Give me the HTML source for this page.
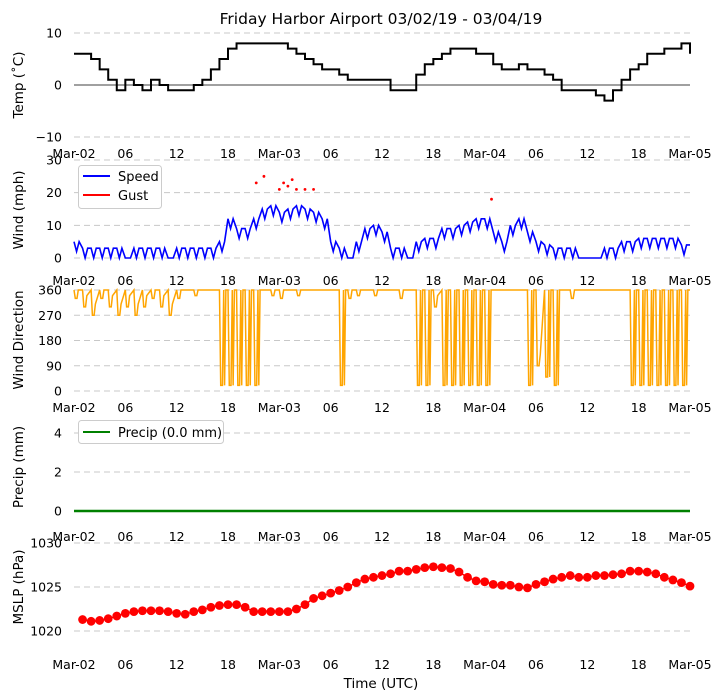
<!DOCTYPE html>
<html><head><meta charset="utf-8">
<style>
body{margin:0;background:#fff;}
svg{display:block;font-family:"DejaVu Sans","Liberation Sans",sans-serif;}
</style></head>
<body>
<svg id="chart" width="722" height="700" viewBox="0 0 722 700"></svg>
<script>
// ---------- data ----------
const hoursTick = [0,6,12,18,24,30,36,42,48,54,60,66,72];
const tickLabels = ["Mar-02","06","12","18","Mar-03","06","12","18","Mar-04","06","12","18","Mar-05"];
const temp = [6,6,5,3,1,-1,1,0,-1,1,0,-1,-1,-1,0,1,3,5,7,8,8,8,8,8,8,7,6,5,4,3,3,2,1,1,1,1,1,-1,-1,-1,2,4,5,6,7,7,7,6,6,4,3,3,4,3,3,2,1,-1,-1,-1,-1,-2,-3,-1,1,3,4,6,6,7,7,8,6];
const speed = [5,3,3,3,3,3,0,3,3,3,3,0,3,3,3,3,3,5,12,9,9,12,15,16,14,15,16,15,14,12,5,3,0,5,9,10,8,3,3,0,5,6,6,9,9,10,11,12,12,8,5,10,12,8,5,4,3,3,3,0,0,0,3,3,5,5,6,6,6,6,6,4,4];
const gustHours = [21.3,22.2,24,24.5,25,25.5,26,27,28,48.8];
const gustVals = [23,25,21,23,22,24,21,21,21,18];
const dirLow = [330,300,270,330,300,270,300,270,300,330,300,270,330,360,340,360,360,20,20,20,20,20,360,340,330,360,340,360,360,360,360,20,330,340,360,340,360,360,330,360,20,20,300,20,20,20,20,20,20,360,360,360,360,20,90,50,20,360,330,360,360,360,360,360,360,20,20,20,20,20,20,20,20];
const precip = new Array(73).fill(0);
const pressHours = [1,2,3,4,5,6,7,8,9,10,11,12,13,14,15,16,17,18,19,20,21,22,23,24,25,26,27,28,29,30,31,32,33,34,35,36,37,38,39,40,41,42,43,44,45,46,47,48,49,50,51,52,53,54,55,56,57,58,59,60,61,62,63,64,65,66,67,68,69,70,71,72];
const pressure = [1021.3,1021.1,1021.2,1021.4,1021.7,1022.0,1022.2,1022.3,1022.3,1022.3,1022.2,1022.0,1021.9,1022.2,1022.4,1022.7,1022.9,1023.0,1023.0,1022.7,1022.2,1022.2,1022.2,1022.2,1022.2,1022.5,1023.0,1023.7,1024.0,1024.3,1024.6,1025.0,1025.5,1025.9,1026.1,1026.3,1026.5,1026.8,1026.8,1027.0,1027.2,1027.3,1027.2,1027.1,1026.7,1026.1,1025.7,1025.6,1025.3,1025.2,1025.2,1025.0,1024.9,1025.3,1025.6,1025.9,1026.1,1026.3,1026.1,1026.1,1026.3,1026.3,1026.4,1026.5,1026.8,1026.8,1026.7,1026.5,1026.1,1025.8,1025.5,1025.1];

// ---------- helpers ----------
const svg = document.getElementById('chart');
const NS = 'http://www.w3.org/2000/svg';
function mk(tag, attrs, parent){const e=document.createElementNS(NS,tag);for(const k in attrs)e.setAttribute(k,attrs[k]);(parent||svg).appendChild(e);return e;}
const X0=74, X1=690;
const xs = h => X0 + (h/72)*(X1-X0);
function lin(d0,d1,p0,p1){return v=>p0+(v-d0)/(d1-d0)*(p1-p0);}

function title(){
  const t=mk('text',{x:381,y:24,'text-anchor':'middle','font-size':15.5,fill:'#000'});
  t.textContent='Friday Harbor Airport 03/02/19 - 03/04/19';
  
  
}
title();

function panel(name, ys, ticks, tickTxt, ylabel, xlabY, labelCY){
  const g=mk('g',{});
  
  
  ticks.forEach((v,i)=>{
    const y=ys(v);
    const gl=mk('line',{x1:X0,x2:X1,y1:y,y2:y,stroke:'#c8c8c8','stroke-width':1,'stroke-dasharray':'6,4'},g);
    
    
    const t=mk('text',{x:62,y:y+4.5,'text-anchor':'end','font-size':12.5,fill:'#000'},g);
    t.textContent=tickTxt[i];
    
    
  });
  hoursTick.forEach((h,i)=>{
    const t=mk('text',{x:xs(h),y:xlabY,'text-anchor':'middle','font-size':12.5,fill:'#000'},g);
    t.textContent=tickLabels[i];
    
    
  });
  const yl=mk('text',{x:0,y:0,'text-anchor':'middle','font-size':13.5,fill:'#000',transform:`translate(23,${labelCY}) rotate(-90)`},g);
  yl.textContent=ylabel;
  
  
  return g;
}
function stepPath(arr, ys){
  let d='';
  arr.forEach((v,i)=>{const x=xs(i),y=ys(v); d+= i===0?`M${x},${y}`:`H${x}V${y}`;});
  d+=`H${xs(72)}`;
  return d;
}

// Temp
const yT=lin(-10,10,137,33);
const gT=panel('temp',yT,[10,-10],['10','−10'],'Temp (˚C)',158,85);
const zl=mk('line',{x1:X0,x2:X1,y1:yT(0),y2:yT(0),stroke:'#000','stroke-width':0.8},gT);


{const t=mk('text',{x:62,y:yT(0)+4.5,'text-anchor':'end','font-size':12.5},gT);t.textContent='0';
}
const tl=mk('path',{d:stepPath(temp,yT),fill:'none',stroke:'#000','stroke-width':2},gT);



// Wind
const yW=lin(0,30,258,160);
const gW=panel('wind',yW,[0,10,20,30],['0','10','20','30'],'Wind (mph)',285,210);
let dW='';
speed.forEach((v,i)=>{
  const x=xs(i), y=yW(v);
  dW+= i===0?`M${x},${y}`:`L${x},${y}`;
  if(i<72){const lo=yW(Math.max(0,v-3));dW+=`L${xs(i+0.3)},${lo}L${xs(i+0.6)},${y}`;}
});
const sl=mk('path',{d:dW,fill:'none',stroke:'#0000ff','stroke-width':1.6},gW);


gustHours.forEach((h,i)=>{
  const c=mk('circle',{cx:xs(h),cy:yW(gustVals[i]),r:1.4,fill:'#ff0000'},gW);
  
  
});
{const lg=mk('g',{},gW);


mk('rect',{x:78.5,y:165.5,width:83,height:43,rx:3,fill:'#fff',stroke:'#ccc'},lg);
mk('line',{x1:83,x2:110,y1:176,y2:176,stroke:'#0000ff','stroke-width':2},lg);
mk('line',{x1:83,x2:110,y1:195,y2:195,stroke:'#ff0000','stroke-width':2},lg);
const a=mk('text',{x:118,y:181,'font-size':13},lg);a.textContent='Speed';

const b=mk('text',{x:118,y:200,'font-size':13},lg);b.textContent='Gust';
}

// Wind direction
const yD=lin(0,360,391,290);
const gD=panel('direction',yD,[0,90,180,270,360],['0','90','180','270','360'],'Wind Direction',412,340);
let dD='';
dirLow.forEach((v,i)=>{
  const top=yD(v<=60?360:Math.min(360,v+40));
  const x=xs(i);
  dD+= i===0?`M${x},${yD(360)}`:`L${x},${yD(360)}`;
  if(i<72){dD+=`L${xs(i+0.15)},${yD(v)}L${xs(i+0.35)},${yD(v)}L${xs(i+0.5)},${top}`;
    if(v<=60){dD+=`L${xs(i+0.6)},${yD(v)}L${xs(i+0.75)},${yD(360)}`;}}
});
const dl=mk('path',{d:dD,fill:'none',stroke:'#ffa500','stroke-width':1.5},gD);



// Precip
const yP=lin(0,4,511,433);
const gP=panel('precip',yP,[0,2,4],['0','2','4'],'Precip (mm)',541,467);
let dP='';
precip.forEach((v,i)=>{dP+=(i===0?'M':'L')+xs(i)+','+yP(v);});
const pl=mk('path',{d:dP,fill:'none',stroke:'#008000','stroke-width':2.5},gP);


{const lg=mk('g',{},gP);


mk('rect',{x:78.5,y:420.5,width:145,height:23,rx:3,fill:'#fff',stroke:'#ccc'},lg);
mk('line',{x1:83,x2:110,y1:432,y2:432,stroke:'#008000','stroke-width':2},lg);
const a=mk('text',{x:118,y:437,'font-size':13},lg);a.textContent='Precip (0.0 mm)';
}

// MSLP
const yM=lin(1020,1030,631,543);
const gM=panel('mslp',yM,[1020,1025,1030],['1020','1025','1030'],'MSLP (hPa)',669,587);
let dM='';
pressure.forEach((v,i)=>{dM+=(i===0?'M':'L')+xs(pressHours[i])+','+yM(v);});
const ml=mk('path',{d:dM,fill:'none',stroke:'#ff0000','stroke-width':1.5},gM);


pressure.forEach((v,i)=>{
  const c=mk('circle',{cx:xs(pressHours[i]),cy:yM(v),r:4.4,fill:'#ff0000'},gM);
  
  
});
{const t=mk('text',{x:381,y:688,'text-anchor':'middle','font-size':13.5});t.textContent='Time (UTC)';
}
</script>
</body></html>
